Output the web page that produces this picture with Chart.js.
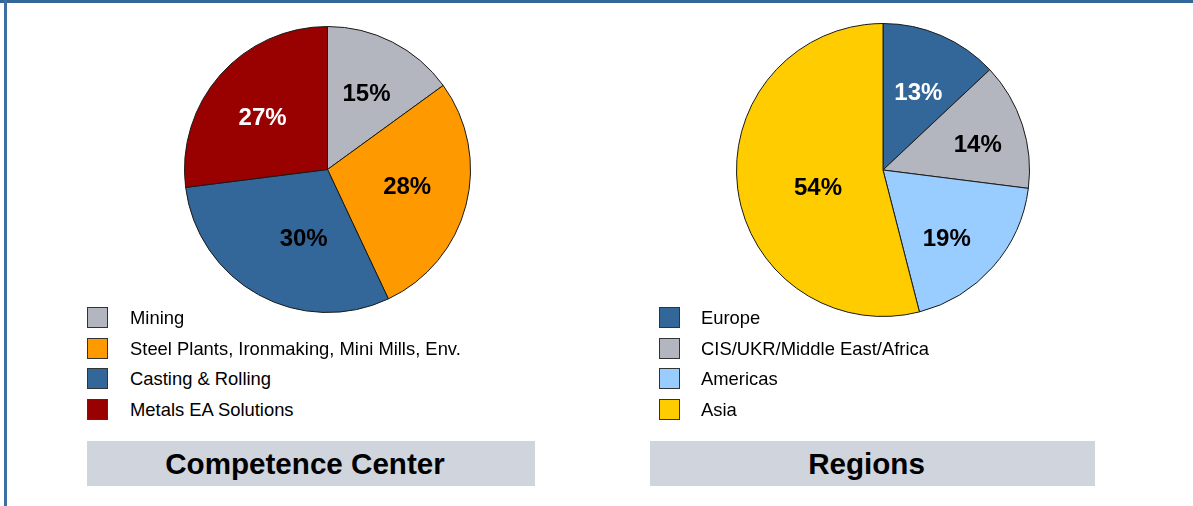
<!DOCTYPE html>
<html>
<head>
<meta charset="utf-8">
<script src="https://cdn.jsdelivr.net/npm/chart.js@4.4.0/dist/chart.umd.min.js"></script>
<style>
  body { margin:0; width:1193px; height:506px; background:#fff; font-family:"Liberation Sans", Arial, sans-serif; position:relative; overflow:hidden; }
  .frame-top { position:absolute; left:0; top:0; width:1193px; height:3px; background:#336699; }
  .frame-left { position:absolute; left:4px; top:0; width:3px; height:506px; background:#3d6fa3; }
  .pie { position:absolute; }
  .legend { position:absolute; font-size:18.4px; color:#000; }
  .legend .row { position:relative; height:30.7px; }
  .legend .box { position:absolute; left:0; top:0; width:19px; height:19px; border:1px solid #333; }
  .legend .txt { position:absolute; top:0; line-height:21px; white-space:nowrap; }
  .title { position:absolute; background:#d0d4dc; height:45px; font-weight:bold; font-size:29.6px; text-align:center; line-height:46px; color:#000; box-sizing:border-box; padding-right:12px; }
</style>
</head>
<body>
<div class="frame-top"></div>
<div class="frame-left"></div>

<canvas id="pie1" class="pie" style="left:184px;top:26px" width="287" height="287"></canvas>
<canvas id="pie2" class="pie" style="left:736px;top:23px" width="294" height="294"></canvas>

<div id="legend1" class="legend" style="left:87px;top:307px"></div>
<div id="legend2" class="legend" style="left:659px;top:307px"></div>

<div class="title" style="left:87px;top:441px;width:448px">Competence Center</div>
<div class="title" style="left:650px;top:441px;width:445px">Regions</div>

<script>
var centerLabels = ["Mining", "Steel Plants, Ironmaking, Mini Mills, Env.", "Casting & Rolling", "Metals EA Solutions"];
var centerValues = [15, 28, 30, 27];
var centerColors = ["#b3b6bf", "#ff9900", "#336699", "#990000"];
var centerTextColors = ["#000", "#000", "#000", "#fff"];

var regionLabels = ["Europe", "CIS/UKR/Middle East/Africa", "Americas", "Asia"];
var regionValues = [13, 14, 19, 54];
var regionColors = ["#336699", "#b3b6bf", "#99ccff", "#ffcc00"];
var regionTextColors = ["#fff", "#000", "#000", "#000"];

// draws the percent labels inside the slices
var sliceLabels = {
  id: "sliceLabels",
  afterDatasetsDraw: function(chart, args, opts){
    var ctx = chart.ctx;
    var meta = chart.getDatasetMeta(0);
    var data = chart.data.datasets[0].data;
    ctx.save();
    ctx.font = "bold 24px 'Liberation Sans', Arial, sans-serif";
    ctx.textAlign = "center";
    ctx.textBaseline = "middle";
    meta.data.forEach(function(arc, i){
      var mid = (arc.startAngle + arc.endAngle) / 2 + (opts.shift ? opts.shift[i] : 0);
      var r = arc.outerRadius * opts.radius[i];
      ctx.fillStyle = opts.colors[i];
      ctx.fillText(data[i] + "%", arc.x + Math.cos(mid) * r, arc.y + Math.sin(mid) * r + 1);
    });
    ctx.restore();
  }
};

function makePie(id, labels, values, colors, textColors, radius, shift){
  return new Chart(document.getElementById(id), {
    type: "pie",
    data: {
      labels: labels,
      datasets: [{
        data: values,
        backgroundColor: colors,
        borderColor: "#1a1a1a",
        borderWidth: 1,
        hoverOffset: 0
      }]
    },
    options: {
      responsive: false,
      animation: false,
      layout: { padding: 0 },
      plugins: {
        legend: { display: false },
        tooltip: { enabled: false },
        sliceLabels: { colors: textColors, radius: radius, shift: shift }
      }
    },
    plugins: [sliceLabels]
  });
}

function renderLegend(id, labels, colors){
  var html = "";
  for (var i = 0; i < labels.length; i++) {
    html += '<div class="row"><span class="box" style="background:' + colors[i] + '"></span>' +
            '<span class="txt" style="left:' + (id === "legend1" ? 43 : 42) + 'px">' +
            labels[i].replace(/&/g, "&amp;") + '</span></div>';
  }
  document.getElementById(id).innerHTML = html;
}

makePie("pie1", centerLabels, centerValues, centerColors, centerTextColors,
  [0.6, 0.57, 0.51, 0.58], [0, -0.04, -0.17, -0.05]);
makePie("pie2", regionLabels, regionValues, regionColors, regionTextColors,
  [0.58, 0.67, 0.64, 0.46], [0.02, 0.05, 0.1, -0.14]);

renderLegend("legend1", centerLabels, centerColors);
renderLegend("legend2", regionLabels, regionColors);
</script>
</body>
</html>
